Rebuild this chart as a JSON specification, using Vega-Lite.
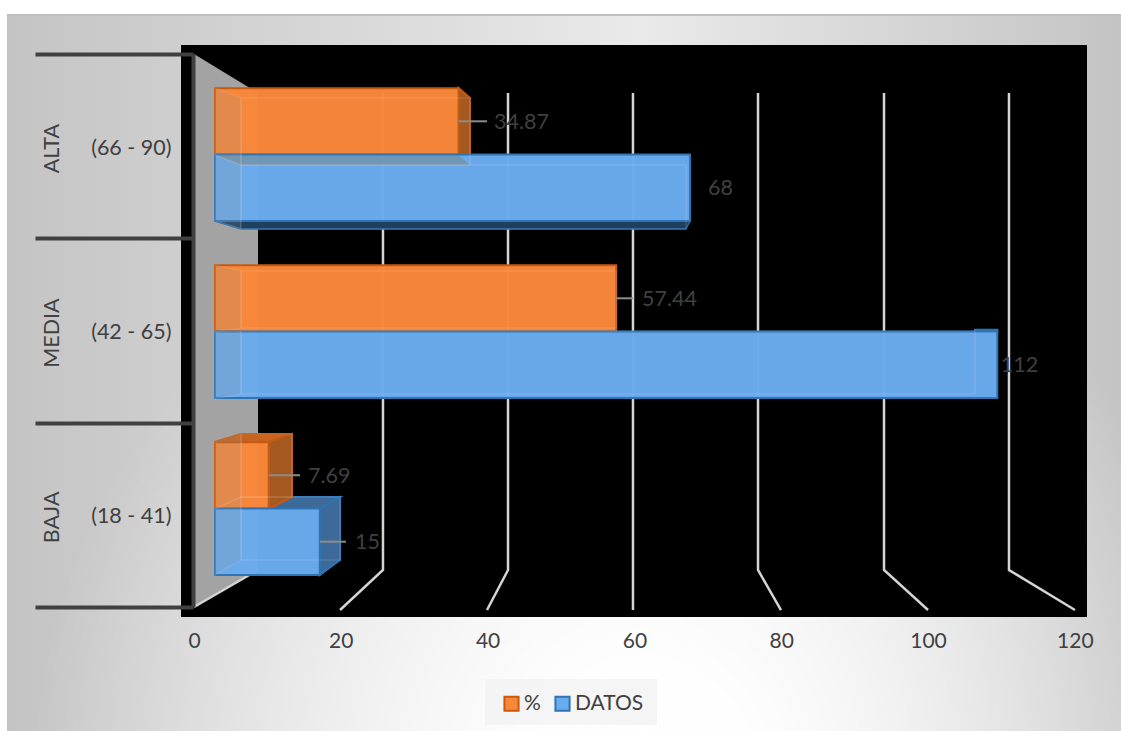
{
"$schema":"https://vega.github.io/schema/vega-lite/v6.json",
"width":906,"height":572,
"autosize":{"type":"none"},
"padding":{"left":181,"top":45,"right":34,"bottom":114},
"background":"#ffffff",
"config":{"font":"Lato","view":{"stroke":null},"text":{"font":"Lato"}},
"datasets":{
"datos":[
{"grupo":"ALTA","rango":"(66 - 90)","serie":"%","valor":34.87,"lider":38.94,"etiqueta":39.94},
{"grupo":"ALTA","rango":"(66 - 90)","serie":"DATOS","valor":68,"lider":null,"etiqueta":70.58},
{"grupo":"MEDIA","rango":"(42 - 65)","serie":"%","valor":57.44,"lider":59.84,"etiqueta":61.13},
{"grupo":"MEDIA","rango":"(42 - 65)","serie":"DATOS","valor":112,"lider":null,"etiqueta":112.5},
{"grupo":"BAJA","rango":"(18 - 41)","serie":"%","valor":7.69,"lider":12.17,"etiqueta":13.31},
{"grupo":"BAJA","rango":"(18 - 41)","serie":"DATOS","valor":15,"lider":18.75,"etiqueta":20.04}
],
"fondos":[
{"id":"tarjeta","x":-29.78,"x2":129.7,"y":105.24,"y2":-19.93},
{"id":"area","x":-4.868,"x2":124.84,"y":100,"y2":0},
{"id":"leyenda","x":38.65,"x2":63.28,"y":-10.84,"y2":-18.88}
],
"lineas":[
{"id":"g20","o":1,"x":24.05,"y":91.61},{"id":"g20","o":2,"x":24.05,"y":8.22},{"id":"g20","o":3,"x":17.9,"y":1.22},
{"id":"g40","o":1,"x":41.95,"y":91.61},{"id":"g40","o":2,"x":41.95,"y":8.22},{"id":"g40","o":3,"x":38.94,"y":1.22},
{"id":"g60","o":1,"x":59.84,"y":91.61},{"id":"g60","o":2,"x":59.84,"y":8.22},{"id":"g60","o":3,"x":59.84,"y":1.22},
{"id":"g80","o":1,"x":77.74,"y":91.61},{"id":"g80","o":2,"x":77.74,"y":8.22},{"id":"g80","o":3,"x":81.03,"y":1.22},
{"id":"g100","o":1,"x":95.78,"y":91.61},{"id":"g100","o":2,"x":95.78,"y":8.22},{"id":"g100","o":3,"x":102.08,"y":1.22},
{"id":"g120","o":1,"x":113.67,"y":91.61},{"id":"g120","o":2,"x":113.67,"y":8.22},{"id":"g120","o":3,"x":123.12,"y":1.22},
{"id":"suelo","o":1,"x":-3.01,"y":1.75},{"id":"suelo","o":2,"x":6.16,"y":8.22}
],
"caras":[
{"id":"pared","tipo":"pared","x":-3.01,"y":98.43,"y2":1.75},
{"id":"pared","tipo":"pared","x":6.16,"y":91.61,"y2":8.22},

{"id":"ad_base","tipo":"base_a","x":0,"y":69.23,"y2":69.23},
{"id":"ad_base","tipo":"base_a","x":3.72,"y":69.23,"y2":67.83},
{"id":"ad_base","tipo":"base_a","x":67.43,"y":69.23,"y2":67.83},
{"id":"ad_base","tipo":"base_a","x":68,"y":69.23,"y2":69.23},

{"id":"bd_tapa","tipo":"lado_a","x":0,"y":18.88,"y2":18.88},
{"id":"bd_tapa","tipo":"lado_a","x":3.72,"y":20.98,"y2":18.88},
{"id":"bd_tapa","tipo":"lado_a","x":15,"y":20.98,"y2":18.88},
{"id":"bd_tapa","tipo":"lado_a","x":17.9,"y":20.98,"y2":20.98},
{"id":"bd_lado","tipo":"lado_a","x":15,"y":18.88,"y2":7.34},
{"id":"bd_lado","tipo":"lado_a","x":17.9,"y":20.98,"y2":9.97},
{"id":"md_tapa","tipo":"lado_a","x":108.8,"y":50.2,"y2":49.83},
{"id":"md_tapa","tipo":"lado_a","x":112,"y":50.2,"y2":49.83},

{"id":"bn_tapa","tipo":"tapa_n","x":0,"y":30.59,"y2":30.59},
{"id":"bn_tapa","tipo":"tapa_n","x":3.72,"y":31.99,"y2":30.59},
{"id":"bn_tapa","tipo":"tapa_n","x":7.69,"y":31.99,"y2":30.59},
{"id":"bn_tapa","tipo":"tapa_n","x":11.02,"y":31.99,"y2":31.99},

{"id":"an_lado","tipo":"lado_n","x":34.87,"y":92.48,"y2":80.77},
{"id":"an_lado","tipo":"lado_n","x":36.5,"y":90.73,"y2":79.02},
{"id":"bn_lado","tipo":"lado_n","x":7.69,"y":30.59,"y2":18.88},
{"id":"bn_lado","tipo":"lado_n","x":11.02,"y":31.99,"y2":20.98},

{"id":"an_base","tipo":"velo","x":0,"y":80.77,"y2":80.77},
{"id":"an_base","tipo":"velo","x":3.72,"y":80.77,"y2":79.02},
{"id":"an_base","tipo":"velo","x":34.87,"y":80.77,"y2":79.02},
{"id":"an_base","tipo":"velo","x":36.5,"y":79.02,"y2":79.02},

{"id":"an_izq","tipo":"interior","x":0,"y":92.48,"y2":80.77},{"id":"an_izq","tipo":"interior","x":3.72,"y":90.73,"y2":79.02},
{"id":"ad_izq","tipo":"interior","x":0,"y":80.77,"y2":69.23},{"id":"ad_izq","tipo":"interior","x":3.72,"y":79.02,"y2":67.83},
{"id":"mn_izq","tipo":"interior","x":0,"y":61.54,"y2":49.83},{"id":"mn_izq","tipo":"interior","x":3.72,"y":60.49,"y2":50.52},
{"id":"md_izq","tipo":"interior","x":0,"y":49.83,"y2":38.11},{"id":"md_izq","tipo":"interior","x":3.72,"y":50,"y2":38.99},
{"id":"bn_izq","tipo":"interior","x":0,"y":30.59,"y2":18.88},{"id":"bn_izq","tipo":"interior","x":3.72,"y":31.99,"y2":20.98},
{"id":"bd_izq","tipo":"interior","x":0,"y":18.88,"y2":7.34},{"id":"bd_izq","tipo":"interior","x":3.72,"y":20.98,"y2":9.97},

{"id":"an_fon","tipo":"fondo","x":3.72,"y":90.73,"y2":79.02},{"id":"an_fon","tipo":"fondo","x":36.5,"y":90.73,"y2":79.02},
{"id":"ad_fon","tipo":"fondo","x":3.72,"y":79.02,"y2":67.83},{"id":"ad_fon","tipo":"fondo","x":67.43,"y":79.02,"y2":67.83},
{"id":"mn_fon","tipo":"fondo","x":3.72,"y":60.49,"y2":50.52},{"id":"mn_fon","tipo":"fondo","x":57.44,"y":60.49,"y2":50.52},
{"id":"md_fon","tipo":"fondo","x":3.72,"y":50,"y2":38.99},{"id":"md_fon","tipo":"fondo","x":108.8,"y":50,"y2":38.99},
{"id":"bn_fon","tipo":"fondo","x":3.72,"y":31.99,"y2":20.98},{"id":"bn_fon","tipo":"fondo","x":11.02,"y":31.99,"y2":20.98},
{"id":"bd_fon","tipo":"fondo","x":3.72,"y":20.98,"y2":9.97},{"id":"bd_fon","tipo":"fondo","x":17.9,"y":20.98,"y2":9.97}
]
},
"resolve":{"scale":{"x":"independent","y":"independent"}},
"layer":[
{"data":{"name":"fondos"},"transform":[{"filter":"datum.id==='tarjeta'"}],
 "mark":{"type":"rect","fill":{"gradient":"linear","x1":0,"y1":0,"x2":1,"y2":0,"stops":[{"offset":0,"color":"#c4c4c4"},{"offset":0.57,"color":"#eaeaea"},{"offset":1,"color":"#c4c4c4"}]}},
 "encoding":{"x":{"field":"x","type":"quantitative","axis":null,"scale":{"domain":[-4.868,124.84],"nice":false,"zero":false}},"x2":{"field":"x2"},"y":{"field":"y","type":"quantitative","axis":null,"scale":{"domain":[0,100],"nice":false,"zero":false}},"y2":{"field":"y2"}}},
{"data":{"name":"fondos"},"transform":[{"filter":"datum.id==='tarjeta'"}],
 "mark":{"type":"rect","fill":{"gradient":"radial","x1":0.57,"y1":0.87,"x2":0.57,"y2":0.87,"r1":0,"r2":0.55,"stops":[{"offset":0,"color":"rgba(255,255,255,1)"},{"offset":0.2,"color":"rgba(255,255,255,0.95)"},{"offset":1,"color":"rgba(255,255,255,0)"}]}},
 "encoding":{"x":{"field":"x","type":"quantitative","axis":null,"scale":{"domain":[-4.868,124.84],"nice":false,"zero":false}},"x2":{"field":"x2"},"y":{"field":"y","type":"quantitative","axis":null,"scale":{"domain":[0,100],"nice":false,"zero":false}},"y2":{"field":"y2"}}},
{"data":{"name":"fondos"},"transform":[{"filter":"datum.id==='tarjeta'"}],
 "mark":{"type":"rule","color":"#bfbfbf","strokeWidth":2},
 "encoding":{"x":{"field":"x","type":"quantitative","axis":null,"scale":{"domain":[-4.868,124.84],"nice":false,"zero":false}},"x2":{"field":"x2"},"y":{"field":"y","type":"quantitative","axis":null,"scale":{"domain":[0,100],"nice":false,"zero":false}}}},
{"data":{"name":"fondos"},"transform":[{"filter":"datum.id==='leyenda'"}],
 "mark":{"type":"rect","fill":"#f2f2f2","fillOpacity":0.75},
 "encoding":{"x":{"field":"x","type":"quantitative","axis":null,"scale":{"domain":[-4.868,124.84],"nice":false,"zero":false}},"x2":{"field":"x2"},"y":{"field":"y","type":"quantitative","axis":null,"scale":{"domain":[0,100],"nice":false,"zero":false}},"y2":{"field":"y2"}}},
{"data":{"name":"fondos"},"transform":[{"filter":"datum.id==='area'"}],
 "mark":{"type":"rect","fill":"#000000"},
 "encoding":{"x":{"field":"x","type":"quantitative","axis":null,"scale":{"domain":[-4.868,124.84],"nice":false,"zero":false}},"x2":{"field":"x2"},"y":{"field":"y","type":"quantitative","axis":null,"scale":{"domain":[0,100],"nice":false,"zero":false}},"y2":{"field":"y2"}}},
{"data":{"name":"caras"},"transform":[{"filter":"datum.tipo==='pared'"}],
 "mark":{"type":"area","orient":"vertical","fill":"#a3a3a3"},
 "encoding":{"detail":{"field":"id"},"x":{"field":"x","type":"quantitative","axis":null,"scale":{"domain":[-4.868,124.84],"nice":false,"zero":false}},"y":{"field":"y","type":"quantitative","axis":null,"scale":{"domain":[0,100],"nice":false,"zero":false}},"y2":{"field":"y2"}}},
{"data":{"name":"lineas"},
 "mark":{"type":"line","color":"#d4d4d4","strokeWidth":2.5},
 "encoding":{"detail":{"field":"id"},"order":{"field":"o"},"x":{"field":"x","type":"quantitative","axis":null,"scale":{"domain":[-4.868,124.84],"nice":false,"zero":false}},"y":{"field":"y","type":"quantitative","axis":null,"scale":{"domain":[0,100],"nice":false,"zero":false}}}},
{"data":{"name":"caras"},"transform":[{"filter":"datum.tipo==='base_a'"}],
 "mark":{"type":"area","orient":"vertical","fill":"#1f3f60","stroke":"#2a68a3","strokeWidth":1.5},
 "encoding":{"detail":{"field":"id"},"x":{"field":"x","type":"quantitative","axis":null,"scale":{"domain":[-4.868,124.84],"nice":false,"zero":false}},"y":{"field":"y","type":"quantitative","axis":null,"scale":{"domain":[0,100],"nice":false,"zero":false}},"y2":{"field":"y2"}}},
{"data":{"name":"caras"},"transform":[{"filter":"datum.tipo==='lado_a'"}],
 "mark":{"type":"area","orient":"vertical","fill":"#3d6a98","stroke":"#2e75b6","strokeWidth":2},
 "encoding":{"detail":{"field":"id"},"x":{"field":"x","type":"quantitative","axis":null,"scale":{"domain":[-4.868,124.84],"nice":false,"zero":false}},"y":{"field":"y","type":"quantitative","axis":null,"scale":{"domain":[0,100],"nice":false,"zero":false}},"y2":{"field":"y2"}}},
{"data":{"name":"caras"},"transform":[{"filter":"datum.tipo==='tapa_n'"}],
 "mark":{"type":"area","orient":"vertical","fill":"#c8641e","stroke":"#c55a11","strokeWidth":2},
 "encoding":{"detail":{"field":"id"},"x":{"field":"x","type":"quantitative","axis":null,"scale":{"domain":[-4.868,124.84],"nice":false,"zero":false}},"y":{"field":"y","type":"quantitative","axis":null,"scale":{"domain":[0,100],"nice":false,"zero":false}},"y2":{"field":"y2"}}},
{"data":{"name":"caras"},"transform":[{"filter":"datum.tipo==='lado_n'"}],
 "mark":{"type":"area","orient":"vertical","fill":"#a3591f","stroke":"#c55a11","strokeWidth":2},
 "encoding":{"detail":{"field":"id"},"x":{"field":"x","type":"quantitative","axis":null,"scale":{"domain":[-4.868,124.84],"nice":false,"zero":false}},"y":{"field":"y","type":"quantitative","axis":null,"scale":{"domain":[0,100],"nice":false,"zero":false}},"y2":{"field":"y2"}}},
{"data":{"name":"datos"},
 "mark":{"type":"bar","fillOpacity":0.98,"strokeWidth":2},
 "encoding":{
  "x":{"field":"valor","type":"quantitative","axis":null,"scale":{"domain":[-4.868,124.84],"nice":false,"zero":false}},
  "y":{"field":"grupo","type":"nominal","axis":null,"scale":{"domain":["ALTA","MEDIA","BAJA"],"range":[21,552],"paddingInner":0.25,"paddingOuter":0.125}},
  "yOffset":{"field":"serie","type":"nominal","scale":{"domain":["%","DATOS"],"padding":0}},
  "fill":{"field":"serie","type":"nominal","scale":{"domain":["%","DATOS"],"range":["#f98739","#6aabee"]},"legend":{"title":null,"orient":"none","legendX":306,"legendY":634,"direction":"horizontal","columns":2,"padding":14,"symbolType":"square","symbolSize":200,"symbolStrokeWidth":2,"labelFontSize":21,"labelColor":"#404040","labelFont":"Lato","labelOffset":2,"columnPadding":10}},
  "stroke":{"field":"serie","type":"nominal","scale":{"domain":["%","DATOS"],"range":["#c55a11","#2e75b6"]},"legend":{"title":null,"orient":"none","legendX":306,"legendY":634,"direction":"horizontal","columns":2,"padding":14,"symbolType":"square","symbolSize":200,"symbolStrokeWidth":2,"labelFontSize":21,"labelColor":"#404040","labelFont":"Lato","labelOffset":2,"columnPadding":10}}
 }},
{"data":{"name":"caras"},"transform":[{"filter":"datum.tipo==='velo'"}],
 "mark":{"type":"area","orient":"vertical","fill":"#7a7a60","fillOpacity":0.4},
 "encoding":{"detail":{"field":"id"},"x":{"field":"x","type":"quantitative","axis":null,"scale":{"domain":[-4.868,124.84],"nice":false,"zero":false}},"y":{"field":"y","type":"quantitative","axis":null,"scale":{"domain":[0,100],"nice":false,"zero":false}},"y2":{"field":"y2"}}},
{"data":{"name":"caras"},"transform":[{"filter":"datum.tipo==='interior'"}],
 "mark":{"type":"area","orient":"vertical","fill":"#909090","fillOpacity":0.2,"stroke":"#ffffff","strokeOpacity":0.08,"strokeWidth":1.5},
 "encoding":{"detail":{"field":"id"},"x":{"field":"x","type":"quantitative","axis":null,"scale":{"domain":[-4.868,124.84],"nice":false,"zero":false}},"y":{"field":"y","type":"quantitative","axis":null,"scale":{"domain":[0,100],"nice":false,"zero":false}},"y2":{"field":"y2"}}},
{"data":{"name":"caras"},"transform":[{"filter":"datum.tipo==='fondo'"}],
 "mark":{"type":"area","orient":"vertical","fill":"#ffffff","fillOpacity":0,"stroke":"#ffffff","strokeOpacity":0.1,"strokeWidth":1.5},
 "encoding":{"detail":{"field":"id"},"x":{"field":"x","type":"quantitative","axis":null,"scale":{"domain":[-4.868,124.84],"nice":false,"zero":false}},"y":{"field":"y","type":"quantitative","axis":null,"scale":{"domain":[0,100],"nice":false,"zero":false}},"y2":{"field":"y2"}}},
{"data":{"name":"datos"},"transform":[{"filter":"datum.lider!=null"}],
 "mark":{"type":"rule","color":"#8c8c8c","strokeWidth":2},
 "encoding":{
  "x":{"field":"valor","type":"quantitative","axis":null,"scale":{"domain":[-4.868,124.84],"nice":false,"zero":false}},
  "x2":{"field":"lider"},
  "y":{"field":"grupo","type":"nominal","axis":null,"scale":{"domain":["ALTA","MEDIA","BAJA"],"range":[21,552],"paddingInner":0.25,"paddingOuter":0.125}},
  "yOffset":{"field":"serie","type":"nominal","scale":{"domain":["%","DATOS"],"padding":0}}
 }},
{"data":{"name":"datos"},
 "mark":{"type":"text","align":"left","baseline":"middle","fontSize":21.5,"color":"#404040","font":"Lato","dy":1.5},
 "encoding":{
  "text":{"field":"valor","type":"nominal"},
  "x":{"field":"etiqueta","type":"quantitative","axis":null,"scale":{"domain":[-4.868,124.84],"nice":false,"zero":false}},
  "y":{"field":"grupo","type":"nominal","axis":null,"scale":{"domain":["ALTA","MEDIA","BAJA"],"range":[21,552],"paddingInner":0.25,"paddingOuter":0.125}},
  "yOffset":{"field":"serie","type":"nominal","scale":{"domain":["%","DATOS"],"padding":0}}
 }},
{"data":{"name":"datos"},
 "mark":{"type":"point","opacity":0},
 "encoding":{
  "x":{"field":"valor","type":"quantitative","scale":{"domain":[-1.77,121.66],"nice":false,"zero":false},
   "axis":{"title":null,"orient":"bottom","values":[0,20,40,60,80,100,120],"domain":false,"ticks":false,"grid":false,"labelFontSize":21,"labelColor":"#404040","labelFont":"Lato","labelPadding":13,"labelOverlap":false,"labelBound":false,"labelFlush":false,"zindex":1}},
  "y":{"field":"grupo","type":"nominal","scale":{"domain":["ALTA","MEDIA","BAJA"],"range":[9,562],"paddingInner":0,"paddingOuter":0},
   "axis":{"title":null,"orient":"left","offset":-12,"domain":true,"domainColor":"#404040","domainWidth":4,"ticks":true,"tickColor":"#404040","tickWidth":4,"tickSize":158,"tickBand":"extent","labelAngle":-90,"labelAlign":"center","labelBaseline":"bottom","labelPadding":-28,"labelOffset":2,"labelFontSize":21.5,"labelColor":"#404040","labelFont":"Lato","grid":false,"zindex":1}}
 }},
{"data":{"name":"datos"},
 "mark":{"type":"point","opacity":0},
 "encoding":{
  "x":{"field":"valor","type":"quantitative","axis":null,"scale":{"domain":[-1.77,121.66],"nice":false,"zero":false}},
  "y":{"field":"rango","type":"nominal","scale":{"domain":["(66 - 90)","(42 - 65)","(18 - 41)"],"range":[9,562],"paddingInner":0,"paddingOuter":0},
   "axis":{"title":null,"orient":"left","domain":false,"ticks":false,"labelPadding":10,"labelOffset":2,"labelFontSize":21.5,"labelColor":"#404040","labelFont":"Lato","grid":false,"zindex":1}}
 }}
]
}
